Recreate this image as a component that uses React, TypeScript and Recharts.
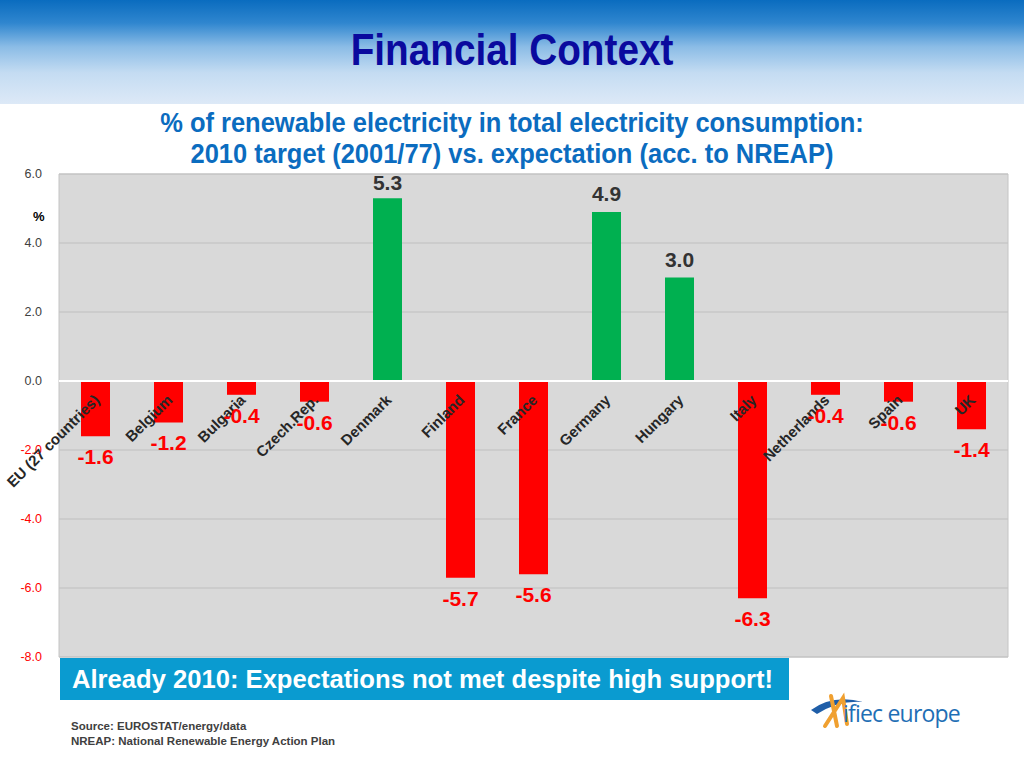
import React from 'react';
import { BarChart, Bar, XAxis, YAxis, CartesianGrid, Cell, LabelList, ReferenceLine, ReferenceArea } from 'recharts';

const countries = ['EU (27 countries)', 'Belgium', 'Bulgaria', 'Czech.Rep.', 'Denmark', 'Finland', 'France', 'Germany', 'Hungary', 'Italy', 'Netherlands', 'Spain', 'UK'];
const gap = [-1.6, -1.2, -0.4, -0.6, 5.3, -5.7, -5.6, 4.9, 3.0, -6.3, -0.4, -0.6, -1.4];
const yTicks = [-8, -6, -4, -2, 0, 2, 4, 6];

const data = countries.map((name, i) => ({ name, value: gap[i] }));

const RED = '#ff0000';
const GREEN = '#00b050';
const sans = '"Liberation Sans", Arial, sans-serif';

const box = (p: any) => {
  const v = p.viewBox ?? p;
  const x = Number(v.x ?? p.x);
  const y = Number(v.y ?? p.y);
  const w = Number(v.width ?? p.width);
  const h = Number(v.height ?? p.height);
  return { x, y, w, h, top: Math.min(y, y + h), bottom: Math.max(y, y + h) };
};

const ValueLabel = (p: any) => {
  const { x, w, top, bottom } = box(p);
  const v = Number(p.value);
  const neg = v < 0;
  return (
    <text x={x + w / 2} y={neg ? bottom + 28 : Math.max(top - 11, 190)} textAnchor="middle"
      fill={neg ? RED : '#333333'} fontSize={21} fontWeight="bold" fontFamily={sans}>
      {v.toFixed(1)}
    </text>
  );
};

const NameLabel = (p: any) => {
  const { x, w, top, bottom } = box(p);
  const zero = p.index != null && gap[p.index] < 0 ? top : bottom;
  const cx = x + w / 2 + 5;
  const cy = zero + 20;
  return (
    <text x={cx} y={cy} textAnchor="end" transform={`rotate(-45 ${cx} ${cy})`}
      fill="#262626" fontSize={15} fontWeight="bold" fontFamily={sans}>
      {p.value}
    </text>
  );
};

const YTick = ({ x, y, payload }: any) => (
  <text x={x} y={y} dy={4} textAnchor="end" fontSize={12.5} fontFamily={sans}
    fill={payload.value < 0 ? RED : '#404040'}>
    {Number(payload.value).toFixed(1)}
  </text>
);

export default function App() {
  return (
    <div style={{ position: 'fixed', left: 0, top: 0, width: 1024, height: 768, background: '#fff', overflow: 'hidden', fontFamily: sans }}>
      <div style={{ position: 'absolute', left: 0, top: 0, width: 1024, height: 104,
        background: 'linear-gradient(to bottom, #0a6cbf 0%, #2f86cf 22%, #8bbce6 45%, #c4dcf2 70%, #dde9f7 100%)' }} />
      <div style={{ position: 'absolute', left: 0, top: 24, width: 1024, textAlign: 'center',
        fontWeight: 'bold', fontSize: 44, color: '#0a0a9e', lineHeight: '52px', transform: 'scaleX(0.88)' }}>
        Financial Context
      </div>
      <div style={{ position: 'absolute', left: 0, top: 107, width: 1024, textAlign: 'center',
        fontWeight: 'bold', fontSize: 28, color: '#0b6cbf', lineHeight: '31px', transform: 'scaleX(0.91)' }}>
        % of renewable electricity in total electricity consumption:<br />
        2010 target (2001/77) vs. expectation (acc. to NREAP)
      </div>

      <div style={{ position: 'absolute', left: 0, top: 0 }}>
        <BarChart width={1024} height={768} data={data} margin={{ top: 174, right: 16, bottom: 111, left: 0 }}>
          <CartesianGrid vertical={false} fill="#d9d9d9" stroke="#bfbfbf" />
          <ReferenceArea y1={-8} y2={6} fill="none" stroke="#c4c4c4" ifOverflow="visible" />
          <XAxis dataKey="name" hide />
          <YAxis width={59} domain={[-8, 6]} ticks={yTicks} axisLine={false} tickLine={false}
            tickSize={6} tickMargin={11} tick={<YTick />} interval={0} />
          <ReferenceLine y={0} stroke="#ffffff" strokeWidth={2} />
          <Bar dataKey="value" barSize={29} isAnimationActive={false}>
            {data.map((d) => (
              <Cell key={d.name} fill={d.value < 0 ? RED : GREEN} />
            ))}
            <LabelList dataKey="name" content={<NameLabel />} />
            <LabelList dataKey="value" content={<ValueLabel />} />
          </Bar>
        </BarChart>
      </div>

      <div style={{ position: 'absolute', left: 33, top: 209, fontSize: 13, fontWeight: 'bold', color: '#000' }}>%</div>

      <div style={{ position: 'absolute', left: 60, top: 658, width: 729, height: 42, background: '#0a9bd0',
        color: '#fff', fontWeight: 'bold', fontSize: 25.6, lineHeight: '43px', paddingLeft: 12, boxSizing: 'border-box', whiteSpace: 'nowrap' }}>
        Already 2010: Expectations not met despite high support!
      </div>

      <div style={{ position: 'absolute', left: 71, top: 719, fontSize: 11.5, fontWeight: 'bold', color: '#404040', lineHeight: '15px' }}>
        Source: EUROSTAT/energy/data<br />
        NREAP: National Renewable Energy Action Plan
      </div>

      <svg style={{ position: 'absolute', left: 805, top: 688 }} width={200} height={50}>
        <path d="M6 22 Q28 6 58 14 Q34 12 12 26 Z" fill="#1f5ea8" />
        <path d="M26 8 L32 38 M20 38 L38 10 L42 36" stroke="#f0a030" strokeWidth={4} fill="none" strokeLinecap="round" />
        <text x={38} y={34} fontSize={23} fill="#1f6fb5" fontFamily={'"Open Sans", sans-serif'} letterSpacing={-0.8}>ifiec europe</text>
      </svg>
    </div>
  );
}
